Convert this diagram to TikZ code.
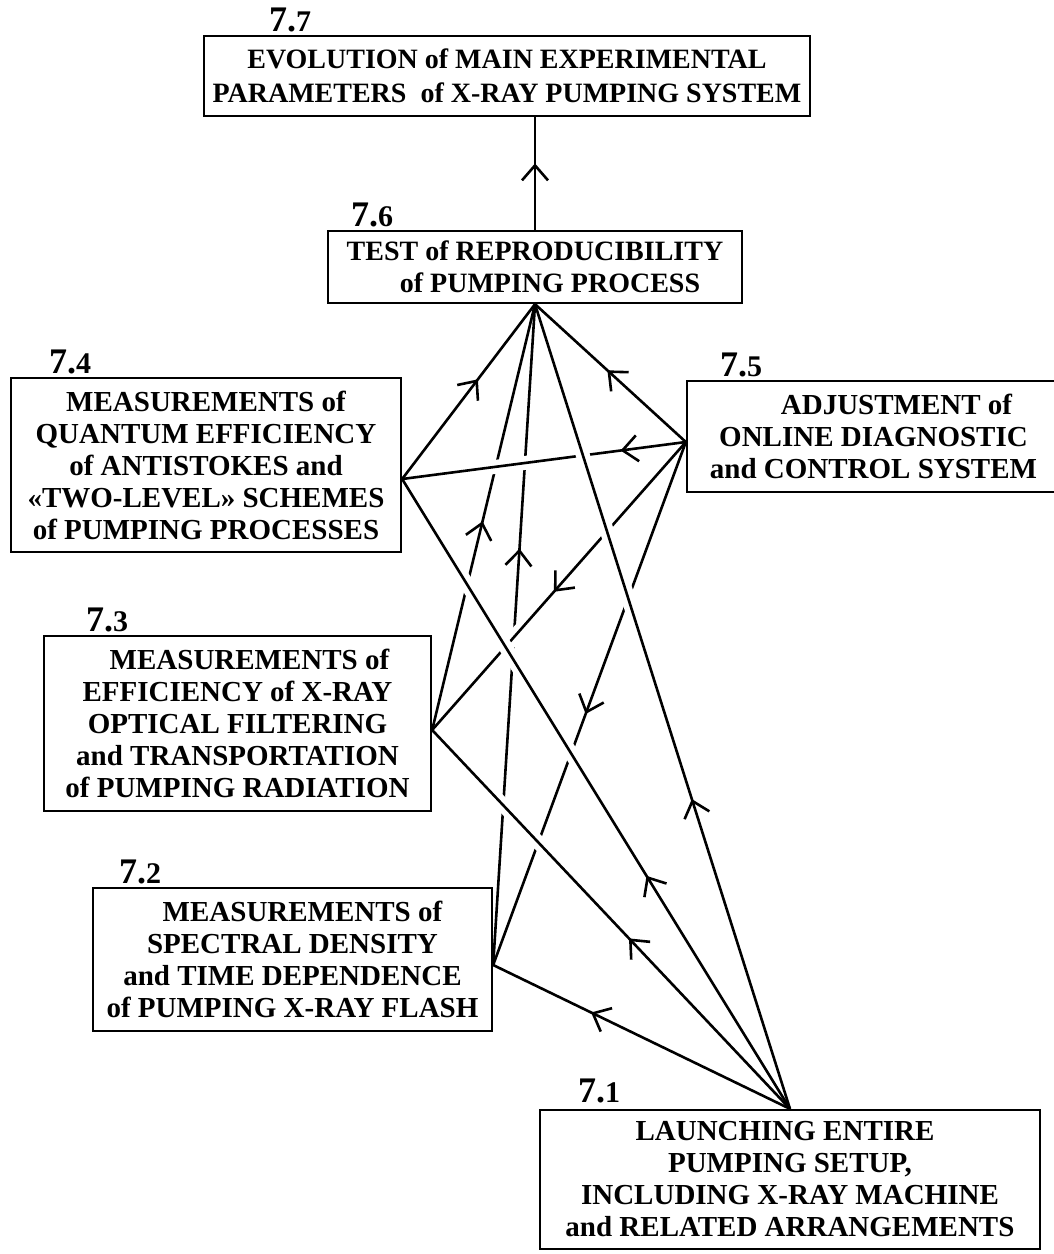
\documentclass[tikz,border=0pt]{standalone}
\usepackage{fontspec}
\setmainfont{Liberation Serif}
\usetikzlibrary{arrows.meta,decorations.markings,calc}
\newcommand\seclabel[2]{{\fontsize{36}{36}\selectfont #1.}{\fontsize{30}{30}\selectfont #2}}
\tikzset{
  box/.style={draw, line width=2.3pt, inner sep=0pt, align=center, font=\fontsize{29}{32}\selectfont\bfseries},
  lab/.style={anchor=base west, inner sep=0pt, font=\bfseries},
  link/.style={line width=2.6pt},
  over/.style 2 args={preaction={draw=white, line width=14pt, shorten <=#1, shorten >=#2}},
  midarrow/.style={postaction={decorate}, decoration={markings, mark=at position #1 with {\arrow{Straight Barb[length=15pt,width=26pt]}}}},
}
\begin{document}
\begin{tikzpicture}[x=1pt,y=-1pt]
\path[use as bounding box, fill=white] (0,0) rectangle (1054,1254);

% boxes
\node[box, minimum width=606pt, minimum height=80pt, font=\fontsize{28}{34}\selectfont\bfseries] (b77) at (507,76)
  {EVOLUTION of MAIN EXPERIMENTAL\\PARAMETERS\ \ of X-RAY PUMPING SYSTEM};
\node[box, minimum width=414pt, minimum height=72pt, font=\fontsize{28}{32}\selectfont\bfseries] (b76) at (535,267)
  {TEST of REPRODUCIBILITY\\\hspace*{30pt}of PUMPING PROCESS};
\node[box, minimum width=390pt, minimum height=174pt] (b74) at (206,465)
  {MEASUREMENTS of\\QUANTUM EFFICIENCY\\of ANTISTOKES and\\«TWO-LEVEL» SCHEMES\\of PUMPING PROCESSES};
\node[box, minimum width=373pt, minimum height=111pt] (b75) at (873.5,436.5)
  {\hspace*{46pt}ADJUSTMENT of\\ONLINE DIAGNOSTIC\\and CONTROL SYSTEM};
\node[box, minimum width=387pt, minimum height=175pt] (b73) at (237.5,723.5)
  {\hspace*{24pt}MEASUREMENTS of\\EFFICIENCY of X-RAY\\OPTICAL FILTERING\\and TRANSPORTATION\\of PUMPING RADIATION};
\node[box, minimum width=399pt, minimum height=143pt] (b72) at (292.5,959.5)
  {\hspace*{20pt}MEASUREMENTS of\\SPECTRAL DENSITY\\and TIME DEPENDENCE\\of PUMPING X-RAY FLASH};
\node[box, minimum width=500pt, minimum height=139pt] (b71) at (790,1179.5)
  {LAUNCHING ENTIRE\hspace*{10pt}\\PUMPING SETUP,\hspace*{10pt}\\INCLUDING X-RAY MACHINE\\and RELATED ARRANGEMENTS};

% labels
\node[lab] (l77) at (269,31) {\seclabel{7}{7}};
\node[lab] (l76) at (351,226) {\seclabel{7}{6}};
\node[lab] (l74) at (49,373) {\seclabel{7}{4}};
\node[lab] (l75) at (720,376) {\seclabel{7}{5}};
\node[lab] (l73) at (86,631) {\seclabel{7}{3}};
\node[lab] (l72) at (119,883) {\seclabel{7}{2}};
\node[lab] (l71) at (578,1102) {\seclabel{7}{1}};

% connection points
\coordinate (p4) at ($(b74.east)+(0,14)$);
\coordinate (p5) at ($(b75.west)+(0,5.5)$);
\coordinate (p3) at ($(b73.east)+(0,6.5)$);
\coordinate (p2) at ($(b72.east)+(0,5.5)$);

% lower-layer connectors
\draw[link, midarrow=0.49] (p3) -- (b76.south);
\draw[link, midarrow=0.63] (p2) -- (b76.south);
\draw[link, midarrow=0.52] (p5) -- (p2);
\draw[link, over={150pt}{60pt}, midarrow=0.52] (p5) -- (p3);
\draw[link, over={120pt}{60pt}, midarrow=0.23] (p5) -- (p4);
% upper-layer connectors
\draw[link, over={200pt}{100pt}, midarrow=0.385] (b71.north) -- (b76.south);
\draw[link, over={200pt}{50pt}, midarrow=0.37] (b71.north) -- (p4);
\draw[link, over={250pt}{50pt}, midarrow=0.45] (b71.north) -- (p3);
\draw[link, midarrow=0.67] (b71.north) -- (p2);
\draw[link, midarrow=0.57] (p4) -- (b76.south);
\draw[link, midarrow=0.52] (p5) -- (b76.south);
\draw[link, midarrow=0.59] (b76.north) -- (b76.north |- b77.south);
\end{tikzpicture}
\end{document}
